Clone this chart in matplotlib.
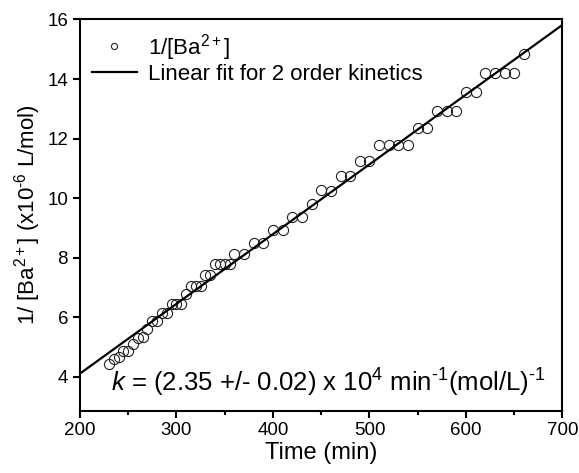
import matplotlib
matplotlib.use("Agg")
import matplotlib.pyplot as plt
from matplotlib.ticker import MultipleLocator
import numpy as np

plt.rcParams['font.family'] = ['Liberation Sans', 'DejaVu Sans']
plt.rcParams['mathtext.fontset'] = 'custom'
plt.rcParams['mathtext.rm'] = 'Liberation Sans'
plt.rcParams['mathtext.it'] = 'Liberation Sans:italic'

# data
time = np.array([230, 235, 240, 245, 250, 255, 260, 265, 270, 275, 280, 285, 290,
                 295, 300, 305, 310, 315, 320, 325, 330, 335, 340, 345, 350, 355,
                 360, 370, 380, 390, 400, 410, 420, 430, 440, 450, 460, 470, 480,
                 490, 500, 510, 520, 530, 540, 550, 560, 570, 580, 590, 600, 610,
                 620, 630, 640, 650, 660])
inv_ba = np.array([4.45, 4.6, 4.67, 4.87, 4.87, 5.10, 5.32, 5.35, 5.60, 5.88, 5.88,
                   6.15, 6.15, 6.44, 6.44, 6.44, 6.77, 7.06, 7.06, 7.06, 7.42, 7.42,
                   7.78, 7.78, 7.78, 7.78, 8.12, 8.12, 8.50, 8.50, 8.93, 8.93, 9.36,
                   9.36, 9.80, 10.27, 10.25, 10.74, 10.74, 11.24, 11.24, 11.78, 11.78,
                   11.78, 11.78, 12.37, 12.37, 12.94, 12.94, 12.94, 13.55, 13.55,
                   14.19, 14.19, 14.19, 14.19, 14.84])

# linear fit line (slope/intercept)
fit_t = np.array([200, 700])
slope = 0.02342
intercept = 4.11 - slope * 200
fit_v = intercept + slope * fit_t

fig = plt.figure(figsize=(5.79, 4.73), dpi=100)
ax = fig.add_axes([0.138, 0.132, 0.8335, 0.8268])

ax.plot(time, inv_ba, 'o', mfc='none', mec='#222222', mew=0.8, ms=7.3,
        label='1/[Ba$^{2+}$]')
ax.plot(fit_t, fit_v, '-', color='black', lw=1.6,
        label='Linear fit for 2 order kinetics')

ax.set_xlim(200, 700)
ax.set_ylim(2.87, 16)
ax.xaxis.set_major_locator(MultipleLocator(100))
ax.xaxis.set_minor_locator(MultipleLocator(50))
ax.set_yticks([4, 6, 8, 10, 12, 14, 16])

for s in ax.spines.values():
    s.set_linewidth(1.5)
ax.tick_params(which='major', direction='out', length=5, width=1.5, labelsize=13.5)
ax.tick_params(which='minor', direction='out', length=3, width=1.5)

ax.set_xlabel('Time (min)', fontsize=17, labelpad=2)
ax.set_ylabel(r'1/ [Ba$^{2+}$] (x10$^{\text{-}6}$ L/mol)', fontsize=16, labelpad=3)

ax.legend(loc='upper left', frameon=False, fontsize=16, markerscale=0.6,
          handlelength=2.0, handletextpad=0.5, borderaxespad=0.25,
          labelspacing=0.05, borderpad=0.3)

ax.text(0.514, 0.07,
        r'$k$ = (2.35 +/- 0.02) x 10$^{4}$ min$^{\text{-}1}$(mol/L)$^{\text{-}1}$',
        transform=ax.transAxes, ha='center', va='center', fontsize=18.5)

fig.savefig('out.png', dpi=100)
